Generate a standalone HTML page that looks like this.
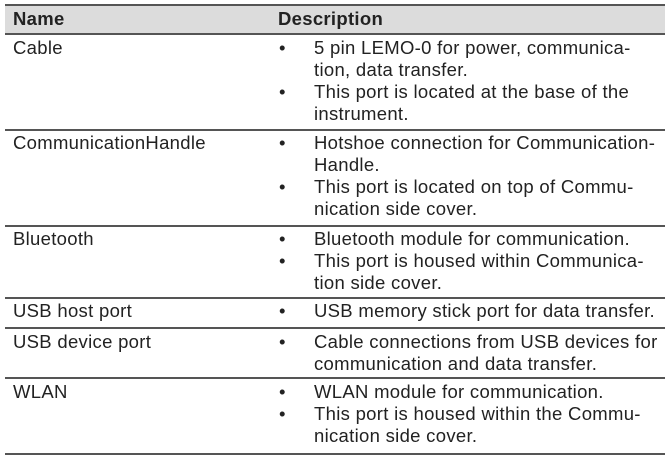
<!DOCTYPE html>
<html><head><meta charset="utf-8"><style>
body{margin:0;width:670px;height:464px;background:#fff;position:relative;font-family:"Liberation Sans",sans-serif;color:#222;overflow:hidden}
.t{position:absolute;font-size:18.5px;line-height:22px;white-space:nowrap;letter-spacing:0.3px}
.b{font-weight:bold}
.l{position:absolute;left:5px;width:660px;height:2px;background:#555}
.hd{position:absolute;left:5px;top:5px;width:660px;height:29px;background:#dcdcdc}
</style></head><body>
<div class="hd"></div>
<div class="l" style="top:4px"></div>
<div class="l" style="top:33px"></div>
<div class="l" style="top:129px"></div>
<div class="l" style="top:225px"></div>
<div class="l" style="top:297px"></div>
<div class="l" style="top:327px"></div>
<div class="l" style="top:377px"></div>
<div class="l" style="top:453px"></div>

<div class="t b" style="left:13px;top:8px">Name</div>
<div class="t b" style="left:278px;top:8px">Description</div>

<div class="t" style="left:13px;top:37px">Cable</div>
<div class="t" style="left:279px;top:37px">•</div>
<div class="t" style="left:314px;top:37px">5 pin LEMO-0 for power, communica-<br>tion, data transfer.</div>
<div class="t" style="left:279px;top:81px">•</div>
<div class="t" style="left:314px;top:81px">This port is located at the base of the<br>instrument.</div>

<div class="t" style="left:13px;top:132px">CommunicationHandle</div>
<div class="t" style="left:279px;top:132px">•</div>
<div class="t" style="left:314px;top:132px">Hotshoe connection for Communication-<br>Handle.</div>
<div class="t" style="left:279px;top:176px">•</div>
<div class="t" style="left:314px;top:176px">This port is located on top of Commu-<br>nication side cover.</div>

<div class="t" style="left:13px;top:228px">Bluetooth</div>
<div class="t" style="left:279px;top:228px">•</div>
<div class="t" style="left:314px;top:228px">Bluetooth module for communication.</div>
<div class="t" style="left:279px;top:250px">•</div>
<div class="t" style="left:314px;top:250px">This port is housed within Communica-<br>tion side cover.</div>

<div class="t" style="left:13px;top:300px">USB host port</div>
<div class="t" style="left:279px;top:300px">•</div>
<div class="t" style="left:314px;top:300px">USB memory stick port for data transfer.</div>

<div class="t" style="left:13px;top:331px">USB device port</div>
<div class="t" style="left:279px;top:331px">•</div>
<div class="t" style="left:314px;top:331px">Cable connections from USB devices for<br>communication and data transfer.</div>

<div class="t" style="left:13px;top:381px">WLAN</div>
<div class="t" style="left:279px;top:381px">•</div>
<div class="t" style="left:314px;top:381px">WLAN module for communication.</div>
<div class="t" style="left:279px;top:403px">•</div>
<div class="t" style="left:314px;top:403px">This port is housed within the Commu-<br>nication side cover.</div>
</body></html>
